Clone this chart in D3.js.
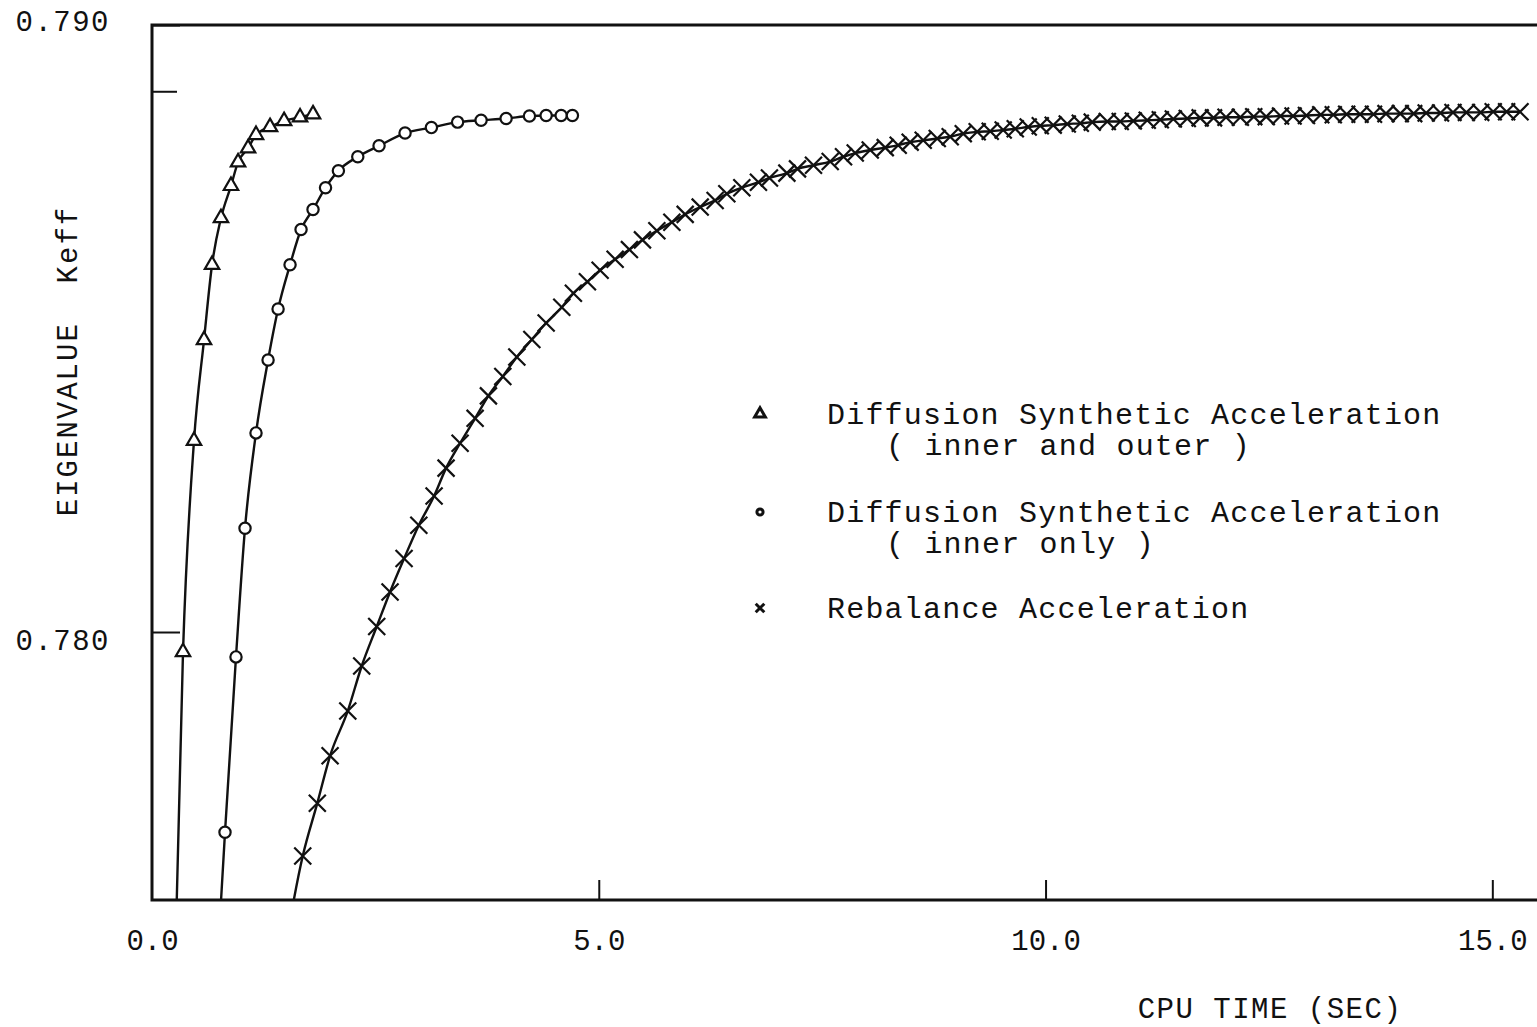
<!DOCTYPE html>
<html>
<head>
<meta charset="utf-8">
<script src="https://cdn.jsdelivr.net/npm/d3@7"></script>
<style>
    body { margin: 0; background: #fff; }
    text { font-family: "Liberation Mono", monospace; fill: #111; }
</style>
</head>
<body>
<div id="root"></div>
<script>
// CPU time (sec) vs eigenvalue Keff.
// First entry of each series lies below the axis (the line enters from below).
const innerOuterTime = [0.25, 0.347, 0.470, 0.582, 0.672, 0.772, 0.884, 0.963, 1.075, 1.164, 1.321, 1.478, 1.657, 1.802];
const innerOuterKeff = [0.7740, 0.77967, 0.78315, 0.78481, 0.78605, 0.78682, 0.78735, 0.78774, 0.78797, 0.78819, 0.78832, 0.78842, 0.78848, 0.78853];

const innerOnlyTime = [0.71, 0.817, 0.940, 1.041, 1.164, 1.299, 1.411, 1.545, 1.668, 1.802, 1.942, 2.086, 2.303, 2.541, 2.832, 3.127, 3.420, 3.683, 3.963, 4.224, 4.411, 4.579, 4.705];
const innerOnlyKeff = [0.7740, 0.77670, 0.77959, 0.78171, 0.78328, 0.78448, 0.78532, 0.78605, 0.78663, 0.78696, 0.78732, 0.78760, 0.78783, 0.78801, 0.78822, 0.78831, 0.78840, 0.78843, 0.78846, 0.78850, 0.78851, 0.78851, 0.78851];

const rebalanceTime = [1.40, 1.687, 1.850, 1.993, 2.191, 2.347, 2.515, 2.664, 2.821, 2.986, 3.157, 3.291, 3.448, 3.616, 3.765, 3.926,
    4.083, 4.251, 4.411, 4.586, 4.716, 4.873, 5.015, 5.183, 5.343, 5.489, 5.650, 5.818, 5.967, 6.135, 6.302, 6.433, 6.601,
    6.787, 6.910, 7.105, 7.224, 7.403, 7.590, 7.739, 7.870, 8.038, 8.206, 8.351, 8.485, 8.631, 8.788, 8.933, 9.079, 9.235,
    9.381, 9.526, 9.661, 9.806, 9.941, 10.086, 10.243, 10.389, 10.523, 10.691, 10.836, 10.982, 11.138, 11.284, 11.430, 11.586,
    11.73, 11.88, 12.02, 12.18, 12.33, 12.47, 12.63, 12.77, 12.92, 13.08, 13.22, 13.37, 13.52, 13.67, 13.81, 13.97, 14.12,
    14.26, 14.42, 14.56, 14.71, 14.87, 15.01, 15.16, 15.31];
const rebalanceKeff = [0.7740, 0.77631, 0.77718, 0.77796, 0.77870, 0.77944, 0.78009, 0.78066, 0.78121, 0.78176, 0.78224, 0.78270, 0.78311, 0.78352, 0.78389, 0.78421,
    0.78453, 0.78482, 0.78509, 0.78535, 0.78558, 0.78577, 0.78596, 0.78614, 0.78630, 0.78646, 0.78661, 0.78675, 0.78688, 0.78700, 0.78711, 0.78722, 0.78732,
    0.78741, 0.78748, 0.78756, 0.78763, 0.78769, 0.78775, 0.78783, 0.78789, 0.78794, 0.78798, 0.78802, 0.78807, 0.78810, 0.78813, 0.78816, 0.78821, 0.78824,
    0.78825, 0.78827, 0.78829, 0.78832, 0.78834, 0.78835, 0.78837, 0.78838, 0.78840, 0.78841, 0.78841, 0.78842, 0.78843, 0.78844, 0.78845, 0.78846,
    0.78847, 0.78847, 0.78848, 0.78848, 0.78849, 0.78849, 0.78850, 0.78850, 0.78851, 0.78852, 0.78852, 0.78853, 0.78853, 0.78853, 0.78854, 0.78854, 0.78854,
    0.78855, 0.78855, 0.78856, 0.78856, 0.78856, 0.78857, 0.78857, 0.78857];

const xTickValues = [0, 5, 10, 15];
const yTickValues = [0.780, 0.790];
const yMarkValue = 0.7889;   // unlabeled tick near the converged value

const seriesNames = ["Diffusion Synthetic Acceleration", "Diffusion Synthetic Acceleration", "Rebalance Acceleration"];
const seriesNotes = ["( inner and outer )", "( inner only )", null];
const seriesSymbols = ["triangle", "circle", "x"];

document.addEventListener("DOMContentLoaded", () => {
    const width = 1537;
    const height = 1027;
    const left = 152, right = 1537, top = 25, bottom = 900;

    const svg = d3.select("#root").append("svg")
        .attr("width", width)
        .attr("height", height);

    const x = d3.scaleLinear().domain([0, 15.5]).range([left, right]);
    const y = d3.scaleLinear().domain([0.775585, 0.790]).range([bottom, top]);

    svg.append("clipPath").attr("id", "plot-clip")
        .append("rect")
        .attr("x", left).attr("y", top)
        .attr("width", right - left).attr("height", bottom - top);

    // ticks and labels
    const xAxis = svg.append("g")
        .attr("transform", `translate(0,${bottom})`)
        .call(d3.axisBottom(x).tickValues(xTickValues).tickSize(-20).tickPadding(29)
            .tickFormat(d3.format(".1f")));
    xAxis.select(".domain").remove();
    xAxis.selectAll(".tick line").attr("stroke", "#111").attr("stroke-width", 2)
        .filter(d => d === 0).remove();
    xAxis.selectAll("text").style("font-size", "29px").attr("fill", "#111");

    const yAxis = svg.append("g")
        .attr("transform", `translate(${left},0)`)
        .call(d3.axisLeft(y).tickValues(yTickValues).tickSize(-28).tickPadding(42)
            .tickFormat(d3.format(".3f")));
    yAxis.select(".domain").remove();
    yAxis.selectAll(".tick line").attr("stroke", "#111").attr("stroke-width", 2);
    yAxis.selectAll("text").style("font-size", "29px").style("letter-spacing", "1.5px").attr("fill", "#111")
        .attr("dy", d => d === 0.790 ? "0.2em" : "0.6em");

    svg.append("line")
        .attr("x1", left).attr("x2", left + 25)
        .attr("y1", y(yMarkValue)).attr("y2", y(yMarkValue))
        .attr("stroke", "#111").attr("stroke-width", 2);

    // frame
    svg.append("path")
        .attr("d", `M${right},${top}H${left}V${bottom}H${right}`)
        .attr("fill", "none")
        .attr("stroke", "#111")
        .attr("stroke-width", 3);

    svg.append("text")
        .attr("transform", `translate(77,361) rotate(-90)`)
        .attr("text-anchor", "middle")
        .style("font-size", "29px")
        .style("letter-spacing", "2px")
        .style("white-space", "pre")
        .text("EIGENVALUE  Keff");

    svg.append("text")
        .attr("x", 1270).attr("y", 1018)
        .attr("text-anchor", "middle")
        .style("font-size", "29px")
        .style("letter-spacing", "1.5px")
        .text("CPU TIME (SEC)");

    // series
    const series = [
        { time: innerOuterTime, keff: innerOuterKeff, symbol: "triangle" },
        { time: innerOnlyTime, keff: innerOnlyKeff, symbol: "circle" },
        { time: rebalanceTime, keff: rebalanceKeff, symbol: "x" }
    ];

    const symbolType = { triangle: d3.symbolTriangle, circle: d3.symbolCircle, x: d3.symbolX };
    const symbolSize = { triangle: 90, circle: 100, x: 190 };

    const line = d3.line()
        .x(d => x(d[0]))
        .y(d => y(d[1]))
        .curve(d3.curveMonotoneX);

    const plot = svg.append("g").attr("clip-path", "url(#plot-clip)");

    series.forEach(s => {
        const pts = s.time.map((t, i) => [t, s.keff[i]]);

        plot.append("path")
            .datum(pts)
            .attr("d", line)
            .attr("fill", "none")
            .attr("stroke", "#111")
            .attr("stroke-width", 2.4);

        plot.selectAll(null)
            .data(pts.slice(1))
            .enter().append("path")
            .attr("transform", d => `translate(${x(d[0])},${y(d[1])})`)
            .attr("d", d3.symbol(symbolType[s.symbol], symbolSize[s.symbol]))
            .attr("fill", s.symbol === "x" ? "none" : "#fff")
            .attr("stroke", "#111")
            .attr("stroke-width", 2.2);
    });

    // legend
    const legendRows = [413, 511, 607];
    const legend = svg.append("g");

    legendRows.forEach((ry, i) => {
        legend.append("path")
            .attr("transform", `translate(760,${ry + 1})`)
            .attr("d", d3.symbol(symbolType[seriesSymbols[i]], i === 1 ? 30 : 50))
            .attr("fill", "none")
            .attr("stroke", "#111")
            .attr("stroke-width", 3);

        legend.append("text")
            .attr("x", 827).attr("y", ry)
            .attr("dy", "0.35em")
            .style("font-size", "30px")
            .style("letter-spacing", "1.2px")
            .text(seriesNames[i]);

        if (seriesNotes[i]) {
            legend.append("text")
                .attr("x", 886).attr("y", ry + 31)
                .attr("dy", "0.35em")
                .style("font-size", "30px")
                .style("letter-spacing", "1.2px")
                .text(seriesNotes[i]);
        }
    });
});
</script>
</body>
</html>
